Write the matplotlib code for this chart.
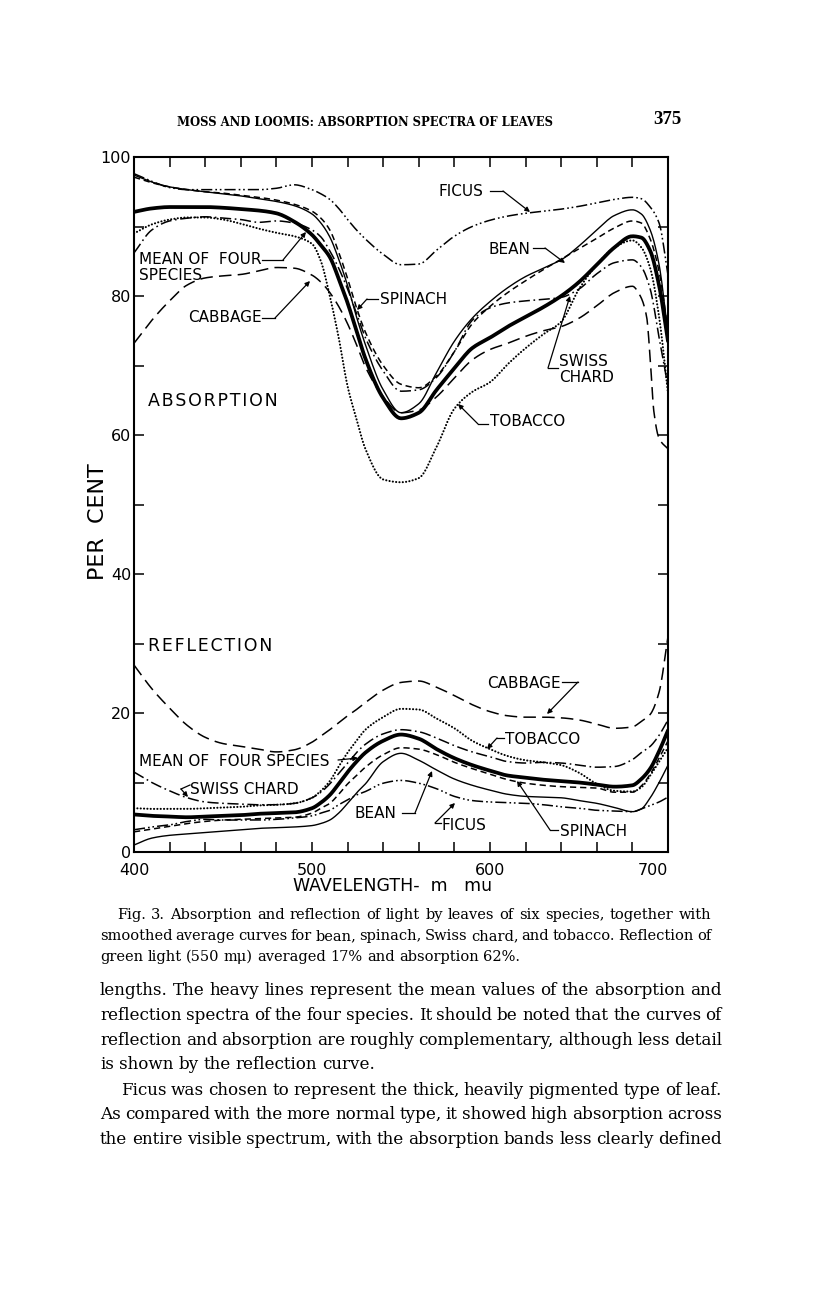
import matplotlib
matplotlib.use('Agg')
import matplotlib.pyplot as plt
import numpy as np

plt.rcParams['lines.scale_dashes'] = False
plt.rcParams['font.family'] = ['DejaVu Sans']

# ---------------- data ----------------
WL = [400, 410, 420, 430, 440, 450, 460, 470, 480, 490, 500, 505, 510, 515, 520, 525, 530,
      540, 550, 560, 570, 580, 590, 600, 610, 620, 630, 640, 650, 660, 670, 680, 685, 690, 695, 700]

# Absorption (%)
abs_mean = [92.1, 92.6, 92.8, 92.8, 92.8, 92.7, 92.5, 92.3, 91.9, 90.7, 88.8, 87.3, 85.6, 82.5, 79.0, 75.0, 71.0,
            65.3, 62.4, 63.2, 66.5, 69.6, 72.5, 74.0, 75.6, 77.0, 78.4, 80.0, 82.0, 84.5, 87.0, 88.6, 88.4, 86.5, 81.5, 73.5]
abs_bean = [97.4, 96.4, 95.7, 95.3, 95.0, 94.7, 94.4, 94.0, 93.6, 93.0, 91.8, 90.5, 88.5, 85.3, 81.5, 77.0, 73.0,
            66.5, 63.2, 64.5, 69.0, 73.5, 76.8, 79.2, 81.2, 82.8, 84.0, 85.2, 87.2, 89.5, 91.6, 92.4, 91.8, 89.5, 84.5, 74.5]
abs_spinach = [97.1, 96.3, 95.7, 95.3, 95.0, 94.8, 94.5, 94.2, 93.8, 93.2, 92.2, 91.2, 89.5, 86.3, 82.5, 78.3, 74.8,
               70.0, 67.3, 66.8, 68.5, 72.0, 76.0, 78.5, 80.5, 82.2, 83.8, 85.3, 86.8, 88.3, 89.8, 90.8, 90.5, 88.2, 83.5, 75.0]
abs_chard = [86.2, 89.5, 90.8, 91.2, 91.4, 91.2, 91.0, 90.6, 90.8, 90.5, 89.5, 88.5, 86.5, 84.0, 81.0, 77.5, 74.0,
             69.2, 66.3, 66.5, 68.3, 72.0, 76.5, 78.3, 79.0, 79.3, 79.5, 79.8, 81.0, 83.2, 84.8, 85.2, 84.2, 81.0, 74.0, 67.0]
abs_tobacco = [89.0, 90.3, 91.0, 91.3, 91.3, 91.0, 90.4, 89.7, 89.1, 88.6, 87.5, 85.0, 80.0, 74.0, 67.0, 62.3, 58.0,
               53.6, 53.2, 53.8, 58.3, 63.8, 66.2, 67.6, 70.2, 72.5, 74.5, 76.3, 81.0, 84.5, 87.0, 88.0, 87.0, 84.0, 77.0, 66.0]
abs_ficus = [97.6, 96.5, 95.6, 95.3, 95.3, 95.3, 95.3, 95.3, 95.5, 96.0, 95.3, 94.7, 93.9, 92.6, 91.0, 89.5, 88.2,
             86.0, 84.5, 84.6, 86.6, 88.6, 90.0, 90.9, 91.5, 91.9, 92.2, 92.5, 92.9, 93.4, 93.9, 94.2, 94.0, 92.8, 90.5, 83.0]
WL_CAB = [400, 410, 420, 430, 440, 450, 460, 470, 480, 490, 500, 505, 510, 515, 520, 525, 530, 540, 550, 560,
          570, 580, 590, 600, 610, 620, 630, 640, 650, 660, 670, 680, 684, 688, 690, 692, 695, 700]
abs_cabbage = [73.2, 76.5, 79.3, 81.6, 82.6, 82.9, 83.1, 83.6, 84.1, 84.0, 83.0, 82.0, 80.5, 78.5, 76.0, 73.0, 69.8,
               65.5, 63.2, 63.6, 65.5, 68.2, 70.8, 72.3, 73.2, 74.2, 75.0, 75.6, 76.8, 78.6, 80.5, 81.4, 80.2, 77.0,
               71.0, 63.5, 59.5, 58.0]

# Reflection (%)
ref_mean = [5.4, 5.2, 5.1, 5.0, 5.1, 5.2, 5.3, 5.5, 5.6, 5.7, 6.3, 7.1, 8.2, 9.8, 11.5, 13.0, 14.3,
            16.0, 16.9, 16.3, 14.8, 13.5, 12.5, 11.7, 11.0, 10.7, 10.4, 10.2, 10.0, 9.7, 9.4, 9.6, 10.5, 12.0, 14.5, 17.5]
ref_bean = [1.0, 2.0, 2.4, 2.6, 2.8, 3.0, 3.2, 3.4, 3.5, 3.6, 3.8, 4.1, 4.6, 5.6, 7.0, 8.5, 9.8,
            13.0, 14.2, 13.2, 11.8, 10.5, 9.6, 8.9, 8.3, 8.0, 7.9, 7.8, 7.4, 7.0, 6.4, 5.8, 6.2, 7.8, 10.0, 12.5]
ref_spinach = [2.9, 3.3, 3.7, 4.1, 4.4, 4.6, 4.7, 4.8, 4.9, 5.0, 5.6, 6.3, 7.0, 8.3, 9.8, 11.0, 12.2,
               14.0, 15.0, 14.8, 14.0, 12.9, 12.0, 11.2, 10.4, 9.9, 9.6, 9.4, 9.3, 9.2, 8.6, 8.6, 9.5, 11.2, 13.5, 16.0]
ref_chard = [11.5, 10.0, 8.8, 7.8, 7.2, 7.0, 6.9, 6.8, 6.8, 7.0, 7.8, 8.6, 9.8, 11.3, 12.8, 14.3, 15.5,
             17.0, 17.6, 17.3, 16.4, 15.3, 14.4, 13.7, 13.0, 12.8, 12.9, 12.8, 12.5, 12.2, 12.3, 13.3, 14.3, 15.2, 16.8, 19.0]
ref_tobacco = [6.3, 6.2, 6.2, 6.2, 6.3, 6.4, 6.5, 6.7, 6.8, 7.0, 7.8, 8.8, 10.2, 12.3, 14.3, 16.0, 17.6,
               19.4, 20.6, 20.5, 19.2, 17.8, 16.0, 14.8, 13.8, 13.2, 12.9, 12.5, 11.4, 9.8, 8.8, 8.7, 9.3, 11.0, 13.0, 15.0]
ref_cabbage = [26.9, 23.5, 20.7, 18.2, 16.5, 15.6, 15.2, 14.8, 14.4, 14.7, 15.8, 16.7, 17.6, 18.6, 19.6, 20.5, 21.5,
               23.3, 24.4, 24.6, 23.7, 22.5, 21.2, 20.2, 19.6, 19.4, 19.4, 19.3, 19.0, 18.4, 17.8, 18.0, 18.8, 19.8, 23.0, 31.0]
ref_ficus = [3.2, 3.6, 3.9, 4.4, 4.7, 4.6, 4.6, 4.6, 4.7, 4.9, 5.2, 5.6, 6.0, 6.8, 7.5, 8.2, 8.7,
             9.9, 10.3, 9.9, 9.1, 8.0, 7.4, 7.2, 7.1, 7.0, 6.8, 6.5, 6.3, 6.0, 5.9, 5.8, 6.2, 6.7, 7.2, 7.9]

X_TICKS = list(range(400, 701, 20))
X_LABELS = {400: '400', 500: '500', 600: '600', 700: '700'}
Y_TICKS = list(range(0, 101, 10))
Y_LABELS = {0: '0', 20: '20', 40: '40', 60: '60', 80: '80', 100: '100'}

# ---------------- figure ----------------
W, H = 816, 1297
fig = plt.figure(figsize=(W / 100, H / 100), dpi=100)
fig.patch.set_facecolor('white')
L, R, T, B = 134, 668, 157, 852
ax = fig.add_axes([L / W, 1 - B / H, (R - L) / W, (B - T) / H])
ax.set_xlim(400, 700)
ax.set_ylim(0, 100)


def P(xp, yp):
    """pixel position on the page -> data coords (for annotations only)"""
    return 400 + (xp - L) * 300 / (R - L), (B - yp) * 100 / (B - T)


def smooth_path(x, y, n=10):
    """monotone cubic (PCHIP) drawing path through the read points"""
    x = np.asarray(x, float)
    y = np.asarray(y, float)
    h = np.diff(x)
    d = np.diff(y) / h
    m = np.zeros_like(y)
    for k in range(1, len(x) - 1):
        if d[k - 1] * d[k] > 0:
            w1 = 2 * h[k] + h[k - 1]
            w2 = h[k] + 2 * h[k - 1]
            m[k] = (w1 + w2) / (w1 / d[k - 1] + w2 / d[k])
    m[0], m[-1] = d[0], d[-1]
    xs, ys = [], []
    t = np.linspace(0, 1, n, endpoint=False)
    for k in range(len(x) - 1):
        h00 = 2 * t**3 - 3 * t**2 + 1
        h10 = t**3 - 2 * t**2 + t
        h01 = -2 * t**3 + 3 * t**2
        h11 = t**3 - t**2
        xs.append(x[k] + t * h[k])
        ys.append(h00 * y[k] + h10 * h[k] * m[k] + h01 * y[k + 1] + h11 * h[k] * m[k + 1])
    xs.append([x[-1]])
    ys.append([y[-1]])
    return np.concatenate(xs), np.concatenate(ys)


styles = {
    'mean': dict(lw=2.7, ls='-'),
    'bean': dict(lw=1.0, ls='-'),
    'spinach': dict(lw=1.1, ls=(0, (4.5, 2.8))),
    'chard': dict(lw=1.1, ls=(0, (8, 2.6, 1.2, 2.6))),
    'tobacco': dict(lw=1.5, ls=(0, (0.1, 2.3)), dash_capstyle='round'),
    'cabbage': dict(lw=1.1, ls=(0, (9, 4.5))),
    'ficus': dict(lw=1.1, ls=(0, (8, 2.2, 1.2, 2.0, 1.2, 2.2))),
}

series = [
    (WL, abs_ficus, 'ficus'), (WL, abs_bean, 'bean'), (WL, abs_spinach, 'spinach'),
    (WL, abs_chard, 'chard'), (WL, abs_tobacco, 'tobacco'), (WL_CAB, abs_cabbage, 'cabbage'),
    (WL, abs_mean, 'mean'),
    (WL, ref_cabbage, 'cabbage'), (WL, ref_tobacco, 'tobacco'), (WL, ref_chard, 'chard'),
    (WL, ref_spinach, 'spinach'), (WL, ref_bean, 'bean'), (WL, ref_ficus, 'ficus'),
    (WL, ref_mean, 'mean'),
]
for xs, ys, key in series:
    sx, sy = smooth_path(xs, ys)
    ax.plot(sx, sy, color='black', solid_joinstyle='round', solid_capstyle='round', **styles[key])

for s in ax.spines.values():
    s.set_linewidth(1.5)
ax.set_xticks(X_TICKS)
ax.set_xticklabels([X_LABELS.get(v, '') for v in X_TICKS])
ax.set_yticks(Y_TICKS)
ax.set_yticklabels([Y_LABELS.get(v, '') for v in Y_TICKS])
ax.tick_params(axis='both', direction='in', length=7.5, width=1.1, top=True, right=True, labelsize=11.5)
ax.tick_params(axis='x', pad=8)
ax.tick_params(axis='y', pad=2)
xl = ax.get_xticklabels()
xl[-1].set_horizontalalignment('right')
xl[-1].set_x(700)

LAB = dict(fontsize=11, color='black', va='center', ha='left')


def leader(pts_px):
    pts = [P(*p) for p in pts_px]
    xs, ys = zip(*pts)
    if len(pts) > 2:
        ax.plot(xs[:-1], ys[:-1], color='black', lw=0.9)
    ax.annotate('', xy=pts[-1], xytext=pts[-2],
                arrowprops=dict(arrowstyle='-|>', color='black', lw=0.9, mutation_scale=7,
                                shrinkA=0, shrinkB=0))


hs = '\u200a'
ax.text(*P(148, 401), hs.join('ABSORPTION'), fontsize=12.5, va='center', ha='left')
ax.text(*P(148, 646), hs.join('REFLECTION'), fontsize=12.5, va='center', ha='left')

# absorption labels
ax.text(*P(438, 192), 'FICUS', **LAB)
leader([(490, 191), (503, 191), (530, 212)])
ax.text(*P(488, 249), 'BEAN', **LAB)
leader([(533, 248), (545, 248), (565, 263)])
ax.text(*P(139, 260), 'MEAN OF  FOUR', **LAB)
ax.text(*P(139, 276), 'SPECIES', **LAB)
leader([(262, 260), (283, 260), (306, 232)])
ax.text(*P(188, 318), 'CABBAGE', **LAB)
leader([(262, 318), (275, 318), (310, 281)])
ax.text(*P(380, 299), 'SPINACH', **LAB)
leader([(378, 299), (367, 299), (357, 310)])
ax.text(*P(559, 362), 'SWISS', **LAB)
ax.text(*P(559, 378), 'CHARD', **LAB)
leader([(558, 368), (548, 368), (570, 296)])
ax.text(*P(490, 422), 'TOBACCO', **LAB)
leader([(488, 424), (478, 424), (458, 404)])

# reflection labels
ax.text(*P(487, 683), 'CABBAGE', **LAB)
leader([(562, 682), (578, 682), (547, 714)])
ax.text(*P(505, 740), 'TOBACCO', **LAB)
leader([(504, 738), (497, 738), (487, 749)])
ax.text(*P(139, 762), 'MEAN OF  FOUR SPECIES', **LAB)
leader([(338, 760), (358, 758)])
ax.text(*P(190, 790), 'SWISS CHARD', **LAB)
leader([(190, 785), (181, 789), (188, 797)])
ax.text(*P(355, 813), 'BEAN', **LAB)
leader([(402, 813), (415, 813), (432, 771)])
ax.text(*P(442, 826), 'FICUS', **LAB)
leader([(441, 823), (435, 823), (455, 803)])
ax.text(*P(560, 832), 'SPINACH', **LAB)
leader([(558, 830), (550, 830), (517, 781)])

# ---------------- page text ----------------
renderer = fig.canvas.get_renderer()


def F(xp, yp):
    return xp / W, 1 - yp / H


def fit_text(s, x0, x1, y, family, weight='normal', base=10.0, va='center'):
    t = fig.text(*F(x0, y), s, fontsize=base, family=family, weight=weight, ha='left', va=va)
    w = t.get_window_extent(renderer).width
    t.set_fontsize(base * (x1 - x0) / w)
    return t


fit_text('MOSS AND LOOMIS: ABSORPTION SPECTRA OF LEAVES', 177, 555, 122, 'DejaVu Serif', weight='bold')
fig.text(*F(681, 120), '375', fontsize=13.5, family='Liberation Serif', weight='bold', ha='right', va='center')
fig.text(*F(98, 522), 'PER  CENT', fontsize=16, rotation=90, ha='center', va='center')
fig.text(*F(293, 886), 'WAVELENGTH-  m   mu', fontsize=12.5, ha='left', va='center')


def paragraph(lines, fs, family='DejaVu Serif', min_gap=0.25):
    groups = []
    for s, x0, x1, y, just in lines:
        groups.append([fig.text(0, 0, w, fontsize=fs, family=family, ha='left', va='baseline')
                       for w in s.split()])
    while True:
        ok = True
        for (s, x0, x1, y, just), ts in zip(lines, groups):
            for t in ts:
                t.set_fontsize(fs)
            if just:
                tot = sum(t.get_window_extent(renderer).width for t in ts)
                gap = (x1 - x0 - tot) / (len(ts) - 1)
                if gap < min_gap * fs * 100 / 72:
                    ok = False
        if ok or fs < 6:
            break
        fs -= 0.1
    for (s, x0, x1, y, just), ts in zip(lines, groups):
        widths = [t.get_window_extent(renderer).width for t in ts]
        gap = (x1 - x0 - sum(widths)) / (len(ts) - 1) if just else 0.3 * fs * 100 / 72
        x = x0
        for t, w in zip(ts, widths):
            t.set_position(F(x, y))
            x += w + gap


paragraph([
    ('Fig. 3.  Absorption and reflection of light by leaves of six species, together with', 117, 711, 919, True),
    ('smoothed average curves for bean, spinach, Swiss chard, and tobacco.  Reflection of', 100, 711, 940, True),
    ('green light (550 m\u03bc) averaged 17% and absorption 62%.', 100, 711, 961, False),
], 10.5, min_gap=0.2)

paragraph([
    ('lengths.  The heavy lines represent the mean values of the absorption and', 100, 722, 995, True),
    ('reflection spectra of the four species.  It should be noted that the curves of', 100, 722, 1020, True),
    ('reflection and absorption are roughly complementary, although less detail', 100, 722, 1045, True),
    ('is shown by the reflection curve.', 100, 722, 1069, False),
    ('Ficus was chosen to represent the thick, heavily pigmented type of leaf.', 121, 722, 1095, True),
    ('As compared with the more normal type, it showed high absorption across', 100, 722, 1119, True),
    ('the entire visible spectrum, with the absorption bands less clearly defined', 100, 722, 1144, True),
], 12.5)

fig.savefig('out.png', dpi=100, facecolor='white')
